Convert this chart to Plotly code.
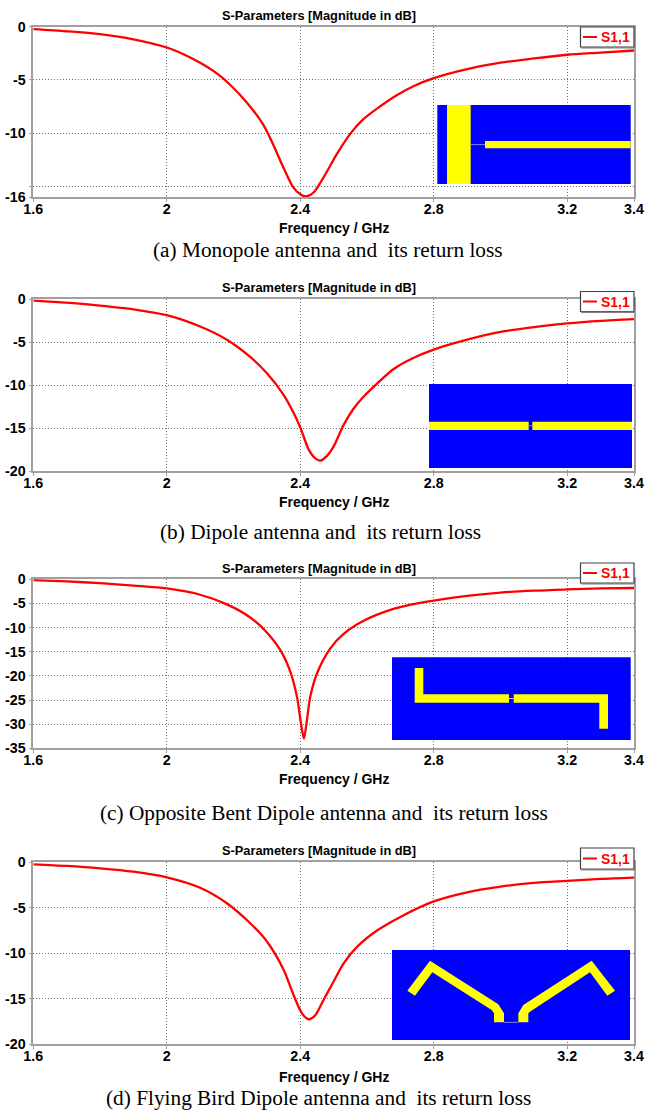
import plotly.graph_objects as go

# ---------- data ----------
freq_a = [1.6, 1.7, 1.8, 1.9, 2.0, 2.05, 2.1, 2.15, 2.189, 2.239, 2.289, 2.319, 2.349, 2.379, 2.40, 2.417, 2.439, 2.469, 2.509, 2.549, 2.589, 2.639, 2.689, 2.739, 2.8, 2.9, 3.0, 3.1, 3.2, 3.3, 3.4]
s11_a = [-0.25, -0.45, -0.72, -1.2, -1.97, -2.6, -3.4, -4.4, -5.44, -7.1, -9.2, -11.1, -13.2, -15.1, -15.75, -15.94, -15.6, -14.2, -12.0, -10.1, -8.7, -7.5, -6.45, -5.6, -4.85, -4.0, -3.4, -3.0, -2.65, -2.45, -2.25]

freq_b = [1.6, 1.7, 1.8, 1.9, 2.0, 2.1, 2.18, 2.25, 2.3, 2.35, 2.38, 2.402, 2.425, 2.445, 2.46, 2.48, 2.5, 2.53, 2.56, 2.59, 2.63, 2.68, 2.74, 2.8, 2.9, 3.0, 3.1, 3.2, 3.3, 3.4]
s11_b = [-0.15, -0.39, -0.73, -1.16, -1.85, -3.17, -4.7, -6.7, -8.6, -11.1, -13.2, -15.1, -17.45, -18.5, -18.75, -18.2, -17.1, -14.6, -12.7, -11.3, -9.8, -8.1, -6.8, -5.85, -4.7, -3.8, -3.23, -2.8, -2.5, -2.3]

freq_c = [1.6, 1.7, 1.8, 1.9, 2.0, 2.1, 2.18, 2.25, 2.3, 2.34, 2.37, 2.39, 2.402, 2.411, 2.42, 2.43, 2.45, 2.49, 2.53, 2.59, 2.67, 2.75, 2.8, 2.9, 3.0, 3.1, 3.2, 3.3, 3.4]
s11_c = [-0.15, -0.45, -0.8, -1.3, -1.9, -3.2, -5.2, -7.9, -11.0, -14.6, -19.1, -24.3, -29.8, -33.0, -29.1, -24.3, -19.5, -14.3, -11.3, -8.6, -6.35, -5.0, -4.4, -3.45, -2.76, -2.35, -2.1, -1.9, -1.8]

freq_d = [1.6, 1.7, 1.8, 1.9, 2.0, 2.1, 2.18, 2.25, 2.3, 2.35, 2.38, 2.405, 2.425, 2.445, 2.47, 2.5, 2.53, 2.57, 2.63, 2.7, 2.8, 2.9, 3.0, 3.1, 3.2, 3.3, 3.4]
s11_d = [-0.22, -0.4, -0.66, -1.03, -1.65, -2.8, -4.5, -6.7, -8.7, -11.8, -14.6, -16.6, -17.25, -16.8, -15.1, -13.1, -11.1, -9.3, -7.5, -6.0, -4.3, -3.3, -2.67, -2.27, -2.05, -1.83, -1.68]

x_tick_vals = [1.6, 2.0, 2.4, 2.8, 3.2, 3.4]
x_tick_text = ["1.6", "2", "2.4", "2.8", "3.2", "3.4"]
y_ticks_a = [0, -5, -10, -15, -16]
y_text_a = ["0", "-5", "-10", "", "-16"]
y_ticks_b = [0, -5, -10, -15, -20]
y_ticks_c = [0, -5, -10, -15, -20, -25, -30, -35]
y_ticks_d = [0, -5, -10, -15, -20]

chart_title = "S-Parameters [Magnitude in dB]"
x_title = "Frequency / GHz"
series_name = "S1,1"
captions = [
    "(a) Monopole antenna and\u00a0 its return loss",
    "(b) Dipole antenna and\u00a0 its return loss",
    "(c) Opposite Bent Dipole antenna and\u00a0 its return loss",
    "(d) Flying Bird Dipole antenna and\u00a0 its return loss",
]

# ---------- layout helpers (page pixels -> paper fractions) ----------
W, H = 647, 1115
px = lambda x: x / W
py = lambda y: 1 - y / H

SANS = "Liberation Sans"
SERIF = "Liberation Serif"
BLUE, YELLOW, FEED = "#0000ff", "#ffff00", "#8080f0"
LEFT, RIGHT = 33.3, 634

panels = [
    dict(top=26.5, bottom=197, ymin=-16, f=freq_a, s=s11_a, yt=y_ticks_a, yl=y_text_a, title_y=15, xt_y=227.5, cap_y=250, cap_x=328, leg=(27, 47)),
    dict(top=299.3, bottom=471.3, ymin=-20, f=freq_b, s=s11_b, yt=y_ticks_b, yl=[str(v) for v in y_ticks_b], title_y=287, xt_y=502, cap_y=532, cap_x=320, leg=(291.5, 311.5)),
    dict(top=579.3, bottom=748.3, ymin=-35, f=freq_c, s=s11_c, yt=y_ticks_c, yl=[str(v) for v in y_ticks_c], title_y=568, xt_y=778.5, cap_y=813, cap_x=324, leg=(563, 583)),
    dict(top=862.3, bottom=1044.3, ymin=-20, f=freq_d, s=s11_d, yt=y_ticks_d, yl=[str(v) for v in y_ticks_d], title_y=850, xt_y=1076.5, cap_y=1098, cap_x=318, leg=(848, 869)),
]

fig = go.Figure()
shapes, annotations = [], []
layout_axes = {}


def rect(x0, y0, x1, y1, color):
    shapes.append(dict(type="rect", xref="paper", yref="paper", x0=px(x0), x1=px(x1), y0=py(y1), y1=py(y0),
                       fillcolor=color, line=dict(width=0), layer="above"))


def line(x0, y0, x1, y1, color, width=1):
    shapes.append(dict(type="line", xref="paper", yref="paper", x0=px(x0), x1=px(x1), y0=py(y0), y1=py(y1),
                       line=dict(color=color, width=width), layer="above"))


def poly(points, color):
    path = "M " + " L ".join(f"{px(x):.5f},{py(y):.5f}" for x, y in points) + " Z"
    shapes.append(dict(type="path", xref="paper", yref="paper", path=path, fillcolor=color,
                       line=dict(width=0), layer="above"))


for i, p in enumerate(panels, start=1):
    xa, ya = f"xaxis{i}", f"yaxis{i}"
    fig.add_trace(go.Scatter(x=p["f"], y=p["s"], mode="lines", name=series_name, showlegend=False,
                             line=dict(color="#ff0000", width=2.3, shape="spline", smoothing=0.8),
                             xaxis=f"x{i}", yaxis=f"y{i}", cliponaxis=False))
    layout_axes[xa] = dict(
        domain=[px(LEFT), px(RIGHT)], range=[1.6, 3.4], anchor=f"y{i}", tickmode="array", automargin=False,
        tickvals=x_tick_vals, ticktext=[f"<b>{t}</b>" for t in x_tick_text],
        showgrid=True, gridcolor="#707070", griddash="1px,2px", gridwidth=1,
        showline=True, linecolor="#a0a0a0", linewidth=1.5, mirror=True, zeroline=False,
        ticks="outside", ticklen=3, tickcolor="#a0a0a0", ticklabelstandoff=-5,
        tickfont=dict(family=SANS, size=14.3, color="#000000"), tickangle=0,
    )
    layout_axes[ya] = dict(
        domain=[py(p["bottom"]), py(p["top"])], range=[p["ymin"], 0], anchor=f"x{i}", tickmode="array", automargin=False,
        tickvals=p["yt"], ticktext=[f"<b>{t}</b>" if t else "" for t in p["yl"]],
        showgrid=True, gridcolor="#707070", griddash="1px,2px", gridwidth=1,
        showline=True, linecolor="#a0a0a0", linewidth=1.5, mirror=True, zeroline=False,
        ticks="outside", ticklen=3, tickcolor="#a0a0a0",
        tickfont=dict(family=SANS, size=14.3, color="#000000"),
    )

    annotations.append(dict(text=f"<b>{chart_title}</b>", xref="paper", yref="paper", x=px(319), y=py(p["title_y"]),
                            showarrow=False, xanchor="center", yanchor="middle",
                            font=dict(family=SANS, size=12.8, color="#000000")))
    annotations.append(dict(text=f"<b>{x_title}</b>", xref="paper", yref="paper", x=px(333.7), y=py(p["xt_y"]),
                            showarrow=False, xanchor="center", yanchor="middle",
                            font=dict(family=SANS, size=14, color="#000000")))
    annotations.append(dict(text=captions[i - 1], xref="paper", yref="paper", x=px(p["cap_x"]), y=py(p["cap_y"]),
                            showarrow=False, xanchor="center", yanchor="middle",
                            font=dict(family=SERIF, size=21.3, color="#000000")))

    # legend box with its darker lower edge
    t, b = p["leg"]
    shapes.append(dict(type="rect", xref="paper", yref="paper", x0=px(580.5), x1=px(634), y0=py(b), y1=py(t),
                       fillcolor="#ffffff", line=dict(color="#404040", width=1.2), layer="above"))
    line(581, b + 0.8, 634.5, b + 0.8, "#808080", 1.5)
    line(583, (t + b) / 2, 597, (t + b) / 2, "#ff0000", 2)
    annotations.append(dict(text=f"<b>{series_name}</b>", xref="paper", yref="paper", x=px(598.5), y=py((t + b) / 2),
                            showarrow=False, xanchor="left", yanchor="middle",
                            font=dict(family=SANS, size=14, color="#ff0000")))

# ---------- antenna insets ----------
# (a) monopole
rect(437.3, 105, 630.7, 184, BLUE)
rect(447, 105, 470.7, 184, YELLOW)
rect(485, 141, 630.7, 148.3, YELLOW)
line(470.7, 144.6, 485, 144.6, FEED, 1)
# (b) dipole
rect(429, 384, 632, 468, BLUE)
rect(429, 421.7, 528.7, 430, YELLOW)
rect(532.3, 421.7, 632, 430, YELLOW)
line(528.7, 425.8, 532.3, 425.8, FEED, 1)
# (c) opposite bent dipole
rect(392, 657.3, 630.7, 740, BLUE)
poly([(414.7, 668), (423.3, 668), (423.3, 694.3), (509, 694.3), (509, 702.7), (414.7, 702.7)], YELLOW)
poly([(513.7, 694.3), (608, 694.3), (608, 728.7), (599.3, 728.7), (599.3, 702.7), (513.7, 702.7)], YELLOW)
line(509, 698.5, 513.7, 698.5, "#c0c0ff", 1)
# (d) flying bird dipole
rect(392, 950, 630, 1040, BLUE)
zx = lambda v: 380 + v / 3
zy = lambda v: 840 + v / 3
left_wing = [(82, 452), (150, 362), (355, 493), (372, 520), (372, 547), (342, 547), (342, 520), (335, 510), (157, 397), (105, 467)]
right_wing = [(705, 452), (635, 362), (430, 495), (415, 520), (415, 547), (445, 547), (445, 520), (452, 514), (630, 397), (682, 467)]
poly([(zx(a), zy(c)) for a, c in left_wing], YELLOW)
poly([(zx(a), zy(c)) for a, c in right_wing], YELLOW)
line(zx(372), zy(547), zx(415), zy(547), FEED, 1)

fig.update_layout(
    width=W, height=H, margin=dict(l=0, r=0, t=0, b=0), autosize=False,
    paper_bgcolor="#ffffff", plot_bgcolor="#ffffff", showlegend=False,
    shapes=shapes, annotations=annotations, **layout_axes,
)

fig.write_html("out.html", config=dict(displayModeBar=False),
               post_script="document.body.style.margin='0';")
